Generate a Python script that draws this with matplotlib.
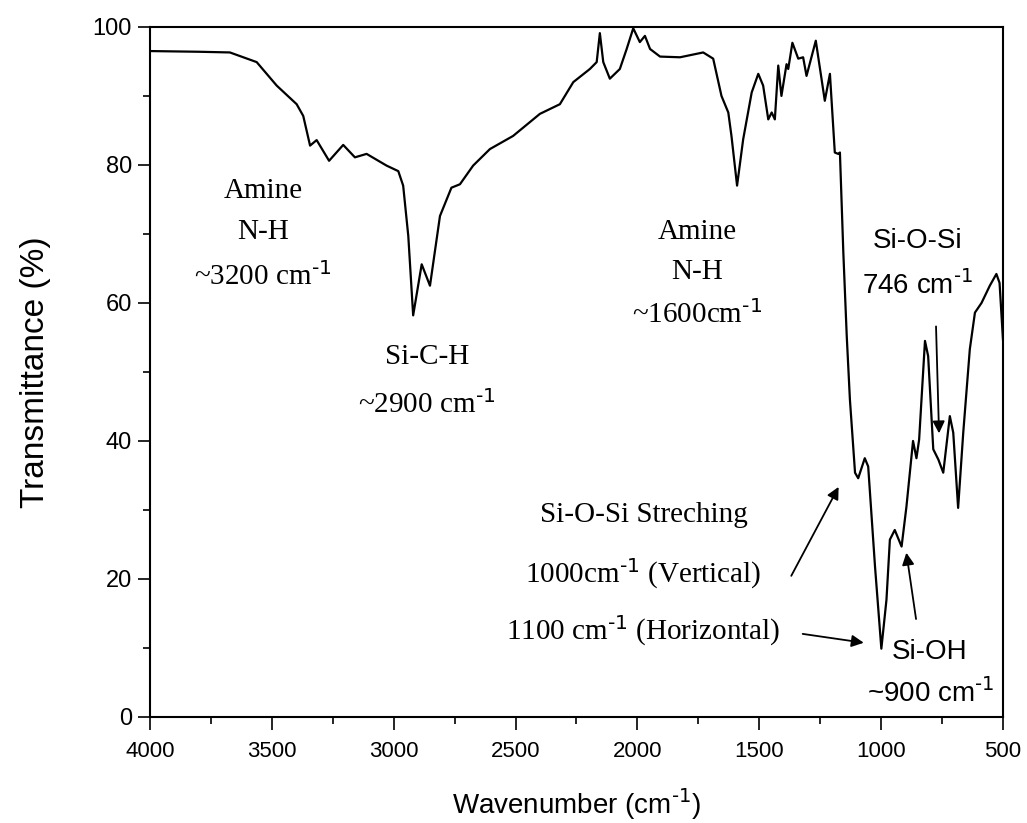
import matplotlib
matplotlib.use("Agg")
from matplotlib import pyplot as plt
from matplotlib.ticker import MultipleLocator

# FTIR spectrum (wavenumber in cm-1, transmittance in %)
wavenumber = [4000, 3800, 3672, 3562, 3480, 3398, 3371, 3343, 3316, 3265,
              3207, 3159, 3111, 3029, 2981, 2961, 2940, 2920, 2885, 2851,
              2810, 2763, 2728, 2674, 2605, 2510, 2400, 2318, 2263, 2195,
              2167, 2154, 2140, 2113, 2072, 2044, 2017, 1990, 1969, 1948,
              1907, 1825, 1730, 1689, 1655, 1627, 1614, 1591, 1566, 1531,
              1504, 1484, 1463, 1449, 1436, 1422, 1409, 1388, 1381, 1364,
              1340, 1320, 1306, 1268, 1231, 1210, 1190, 1176, 1169, 1155,
              1141, 1128, 1107, 1094, 1067, 1053, 1025, 999, 978, 964,
              944, 916, 896, 869, 855, 844, 820, 807, 786, 765,
              745, 718, 704, 684, 663, 636, 615, 588, 554, 527,
              514, 500]
transmittance = [96.5, 96.4, 96.3, 94.9, 91.5, 88.8, 87.1, 82.8, 83.6, 80.6,
                 82.9, 81.1, 81.6, 79.9, 79.1, 77.0, 69.7, 58.2, 65.6, 62.5,
                 72.6, 76.7, 77.2, 79.9, 82.3, 84.2, 87.4, 88.8, 92.0, 93.9,
                 94.9, 99.1, 94.9, 92.5, 93.9, 96.8, 99.8, 97.8, 98.7, 96.8,
                 95.7, 95.6, 96.3, 95.4, 90.0, 87.6, 84.2, 77.0, 83.7, 90.5,
                 93.2, 91.5, 86.6, 87.6, 86.6, 94.4, 90.0, 94.6, 93.9, 97.7,
                 95.4, 95.6, 92.9, 98.0, 89.3, 93.2, 81.8, 81.6, 81.8, 67.3,
                 55.2, 46.0, 35.4, 34.6, 37.5, 36.3, 21.8, 9.9, 17.0, 25.7,
                 27.1, 24.7, 30.5, 40.0, 37.5, 40.2, 54.5, 52.3, 38.8, 37.3,
                 35.4, 43.6, 41.2, 30.3, 41.2, 53.3, 58.6, 60.0, 62.5, 64.2,
                 62.9, 54.7]

plt.rcParams['mathtext.default'] = 'regular'
plt.rcParams['axes.linewidth'] = 1.5

SERIF = ['Liberation Serif', 'DejaVu Serif']
SANS = ['Liberation Sans', 'DejaVu Sans']
NARROW = ['Liberation Sans Narrow', 'DejaVu Sans Condensed', 'Liberation Sans']
INV_CM = r'$^{\text{-1}}$'

fig = plt.figure(figsize=(10.27, 8.23), dpi=100)
ax = fig.add_axes([0.146, 0.1288, 0.8306, 0.8385])

ax.plot(wavenumber, transmittance, color='black', linewidth=1.6)

ax.set_xlim(4000, 500)
ax.set_ylim(0, 100)
ax.xaxis.set_major_locator(MultipleLocator(500))
ax.xaxis.set_minor_locator(MultipleLocator(250))
ax.yaxis.set_major_locator(MultipleLocator(20))
ax.yaxis.set_minor_locator(MultipleLocator(10))
ax.tick_params(which='major', direction='out', length=9, width=1.2)
ax.tick_params(which='minor', direction='out', length=5, width=1.2)
ax.tick_params(axis='y', labelsize=17, pad=4)
ax.tick_params(axis='x', labelsize=16, pad=8)
for lab in ax.get_yticklabels():
    lab.set_family(SANS)
for lab in ax.get_xticklabels():
    lab.set_family(NARROW)

ax.set_xlabel('Wavenumber (cm' + INV_CM + ')', family=NARROW, fontsize=20, labelpad=18)
ax.set_ylabel('Transmittance (%)', family=SANS, fontsize=24, labelpad=30)

# band assignments
serif_kw = dict(family=SERIF, fontsize=21, ha='center', va='center')
ax.text(3536, 76.2, 'Amine', **serif_kw)
ax.text(3536, 70.3, 'N-H', **serif_kw)
ax.text(3536, 63.8, '~3200 cm' + INV_CM, **serif_kw)
ax.text(2863, 52.2, 'Si-C-H', **serif_kw)
ax.text(2863, 45.2, '~2900 cm' + INV_CM, **serif_kw)
ax.text(1756, 70.3, 'Amine', **serif_kw)
ax.text(1756, 64.5, 'N-H', **serif_kw)
ax.text(1756, 58.3, '~1600cm' + INV_CM, **serif_kw)
ax.text(1975, 29.2, 'Si-O-Si Streching', **serif_kw)
ax.text(1975, 20.8, '1000cm' + INV_CM + ' (Vertical)', **serif_kw)
ax.text(1975, 12.5, '1100 cm' + INV_CM + ' (Horizontal)', **serif_kw)

sans_kw = dict(family=SANS, fontsize=20, ha='center', va='center')
ax.text(850, 69.0, 'Si-O-Si', **sans_kw)
ax.text(850, 62.5, '746 cm' + INV_CM, **sans_kw)
ax.text(800, 9.4, 'Si-OH', **sans_kw)
ax.text(797, 3.4, '~900 cm' + INV_CM, **sans_kw)

arrow_kw = dict(arrowstyle='-|>', color='black', lw=1.3, mutation_scale=18)
ax.annotate('', xy=(762, 40.7), xytext=(775, 57.0), arrowprops=arrow_kw)
ax.annotate('', xy=(1169, 33.7), xytext=(1374, 20.1), arrowprops=arrow_kw)
ax.annotate('', xy=(1060, 10.7), xytext=(1333, 12.1), arrowprops=arrow_kw)
ax.annotate('', xy=(898, 24.2), xytext=(855, 13.8), arrowprops=arrow_kw)

fig.savefig('out.png', dpi=100)
